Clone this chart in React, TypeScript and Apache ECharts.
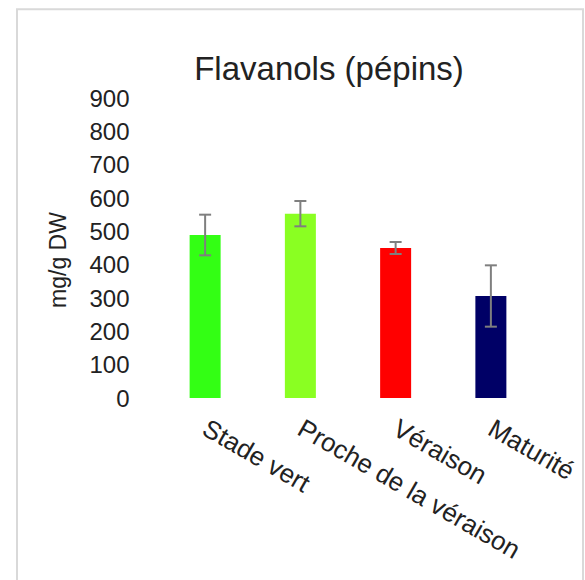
import React, { useEffect, useRef } from "react";
import * as echarts from "echarts";

const categories = ["Stade vert", "Proche de la véraison", "Véraison", "Maturité"];
const values = [489, 553, 450, 306];
const errors = [61, 38, 18, 92];
const barColors = ["#33ff14", "#8aff22", "#ff0000", "#000066"];
const yTicks = { min: 0, max: 900, interval: 100 };
const titleText = "Flavanols (pépins)";
const yName = "mg/g DW";

export default function App() {
  const ref = useRef<HTMLDivElement>(null);
  useEffect(() => {
    document.body.style.margin = "0";
    if (!ref.current) return;
    const chart = echarts.init(ref.current, undefined, { renderer: "svg" });
    const font = "'Liberation Sans', Arial, sans-serif";
    const errData = values.map((v, i) => [i, v - errors[i], v + errors[i]]);
    chart.setOption({
      animation: false,
      backgroundColor: "#ffffff",
      title: {
        text: titleText,
        left: 324,
        textAlign: "center",
        top: 47,
        textStyle: { fontFamily: font, fontSize: 33, fontWeight: "normal", color: "#222222" },
      },
      graphic: [
        {
          type: "rect",
          shape: { x: 17, y: 9.3, width: 566, height: 620 },
          style: { fill: "none", stroke: "#d9d9d9", lineWidth: 2 },
          silent: true,
        },
        {
          type: "text",
          x: 58,
          y: 260,
          rotation: Math.PI / 2,
          style: {
            text: yName,
            fontFamily: font,
            fontSize: 23,
            fill: "#222222",
            textAlign: "center",
            textVerticalAlign: "middle",
          },
        },
      ],
      grid: { left: 157.5, right: 46.5, top: 98, bottom: 182, containLabel: false },
      xAxis: {
        type: "category",
        data: categories,
        axisLine: { show: false },
        axisTick: { show: false },
        axisLabel: {
          interval: 0,
          rotate: -30,
          margin: 28,
          fontFamily: font,
          fontSize: 26,
          color: "#222222",
        },
      },
      yAxis: {
        type: "value",
        min: yTicks.min,
        max: yTicks.max,
        interval: yTicks.interval,
        axisLine: { show: false },
        axisTick: { show: false },
        splitLine: { show: false },
        axisLabel: { margin: 28, fontFamily: font, fontSize: 24, color: "#222222" },
      },
      series: [
        {
          type: "bar",
          barWidth: 31,
          data: values.map((v, i) => ({ value: v, itemStyle: { color: barColors[i] } })),
        },
        {
          type: "custom",
          data: errData,
          z: 10,
          renderItem: (params: any, api: any) => {
            const idx = api.value(0);
            const lo = api.coord([idx, api.value(1)]);
            const hi = api.coord([idx, api.value(2)]);
            const hw = 6;
            const style = { stroke: "#7f7f7f", lineWidth: 2 };
            return {
              type: "group",
              children: [
                { type: "line", shape: { x1: lo[0], y1: lo[1], x2: hi[0], y2: hi[1] }, style },
                { type: "line", shape: { x1: lo[0] - hw, y1: lo[1], x2: lo[0] + hw, y2: lo[1] }, style },
                { type: "line", shape: { x1: hi[0] - hw, y1: hi[1], x2: hi[0] + hw, y2: hi[1] }, style },
              ],
            };
          },
        },
      ],
    });
    return () => chart.dispose();
  }, []);
  return <div ref={ref} style={{ width: 585, height: 580 }} />;
}
